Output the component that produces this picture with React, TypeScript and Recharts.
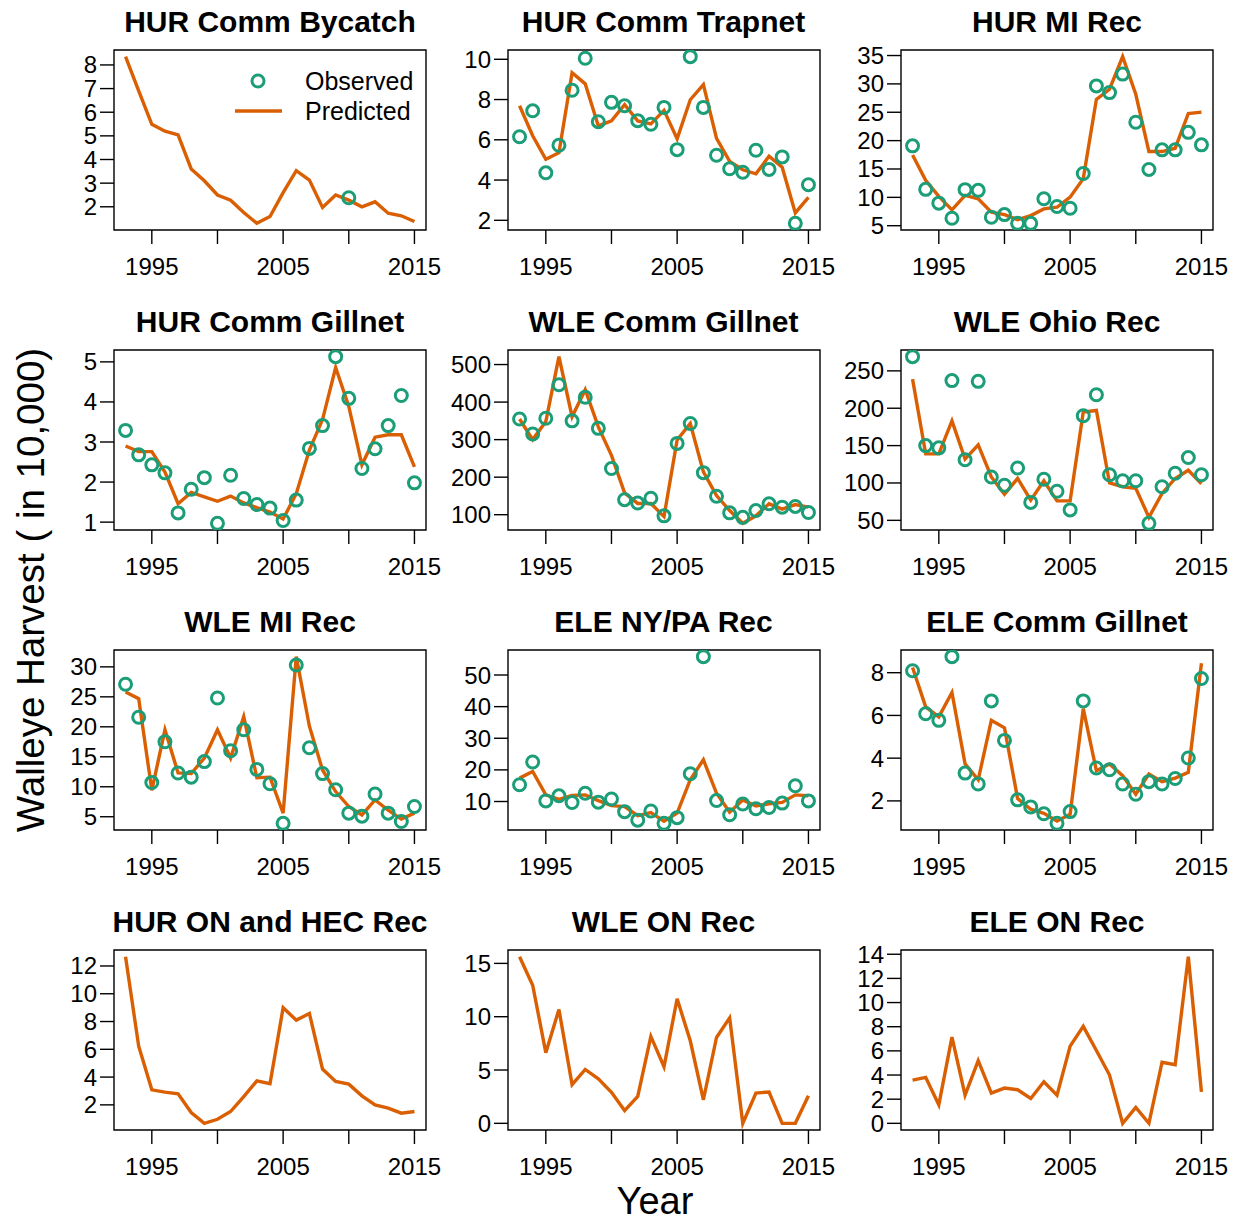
import React from 'react';
import { ComposedChart, Line, Scatter, XAxis, YAxis, ReferenceArea } from 'recharts';

const GREEN = '#1B9E77';
const ORANGE = '#D95F02';
const FONT = '"Liberation Sans", Arial, Helvetica, sans-serif';

const years = [1993, 1994, 1995, 1996, 1997, 1998, 1999, 2000, 2001, 2002, 2003, 2004, 2005, 2006, 2007, 2008, 2009, 2010, 2011, 2012, 2013, 2014, 2015];
const xTicks = [1995, 2000, 2005, 2010, 2015];
const xLabeled = [1995, 2005, 2015];

const titles = [
  'HUR Comm Bycatch', 'HUR Comm Trapnet', 'HUR MI Rec',
  'HUR Comm Gillnet', 'WLE Comm Gillnet', 'WLE Ohio Rec',
  'WLE MI Rec', 'ELE NY/PA Rec', 'ELE Comm Gillnet',
  'HUR ON and HEC Rec', 'WLE ON Rec', 'ELE ON Rec',
];

const _ = null;
const hurBycatchPred = [8.35, 6.9, 5.49, 5.2, 5.04, 3.6, 3.1, 2.5, 2.28, 1.76, 1.3, 1.59, 2.6, 3.53, 3.13, 1.97, 2.5, 2.28, 2.0, 2.21, 1.73, 1.62, 1.38];
const hurBycatchObs = [_, _, _, _, _, _, _, _, _, _, _, _, _, _, _, _, _, 2.38, _, _, _, _, _];
const hurTrapPred = [7.69, 6.2, 5.03, 5.36, 9.33, 8.78, 6.69, 6.94, 7.74, 6.94, 6.79, 7.46, 6.05, 7.99, 8.74, 6.07, 4.93, 4.51, 4.31, 5.18, 4.64, 2.37, 3.14];
const hurTrapObs = [6.15, 7.44, 4.36, 5.73, 8.46, 10.05, 6.9, 7.86, 7.69, 6.95, 6.77, 7.61, 5.51, 10.13, 7.61, 5.23, 4.56, 4.39, 5.48, 4.53, 5.15, 1.85, 3.77];
const hurMiRecPred = [17.47, 13.0, 10.16, 7.79, 10.34, 9.75, 7.38, 6.96, 6.07, 6.78, 7.97, 8.26, 10.04, 13.3, 27.28, 29.06, 34.8, 28.17, 18.07, 18.07, 18.66, 24.78, 25.02];
const hurMiRecObs = [19.08, 11.41, 8.98, 6.31, 11.36, 11.23, 6.49, 6.96, 5.42, 5.42, 9.75, 8.38, 8.08, 14.2, 29.65, 28.47, 31.73, 23.24, 14.92, 18.37, 18.37, 21.46, 19.26];
const hurGillPred = [2.9, 2.76, 2.76, 2.25, 1.46, 1.74, 1.63, 1.52, 1.65, 1.48, 1.36, 1.25, 1.08, 1.71, 2.8, 3.56, 4.86, 3.89, 2.43, 3.12, 3.18, 3.18, 2.38];
const hurGillObs = [3.29, 2.68, 2.43, 2.23, 1.23, 1.82, 2.11, 0.97, 2.17, 1.59, 1.44, 1.35, 1.04, 1.55, 2.84, 3.41, 5.13, 4.09, 2.34, 2.83, 3.41, 4.16, 1.98];
const wleGillPred = [355, 300, 348, 521, 361, 433, 334, 258, 158, 130, 130, 95, 299, 343, 214, 151, 111, 77, 97, 129, 115, 127, 120];
const wleGillObs = [355, 315, 357, 446, 350, 413, 330, 223, 140, 131, 144, 97, 290, 343, 212, 149, 105, 93, 111, 129, 120, 122, 106];
const wleOhioPred = [239, 139, 139, 183, 132, 151, 108, 85, 106, 77, 103, 76, 76, 195, 197, 100, 95, 93, 54, 86, 106, 117, 99];
const wleOhioObs = [269, 150, 147, 237, 131, 236, 108, 97, 120, 74, 105, 89, 64, 190, 218, 111, 103, 103, 46, 95, 113, 134, 111];
const wleMiPred = [25.8, 24.7, 9.4, 19.5, 12.3, 12.2, 14.8, 19.5, 14.8, 21.7, 11.5, 11.6, 5.6, 31.7, 20.1, 12.8, 9.2, 6.7, 5.3, 7.8, 6.1, 4.6, 5.6];
const wleMiObs = [27.1, 21.6, 10.7, 17.5, 12.3, 11.6, 14.2, 24.8, 16.0, 19.5, 12.9, 10.5, 3.9, 30.3, 16.5, 12.2, 9.5, 5.6, 5.1, 8.8, 5.6, 4.2, 6.7];
const eleNyPaPred = [17.4, 19.5, 12.1, 10.7, 11.9, 12.1, 10.3, 8.7, 8.4, 5.5, 6.5, 3.8, 6.3, 16.9, 23.2, 12.6, 6.6, 10.5, 8.6, 9.3, 9.7, 12.1, 11.8];
const eleNyPaObs = [15.3, 22.5, 10.2, 11.8, 9.7, 12.6, 9.8, 10.8, 6.8, 4.1, 7.0, 3.1, 4.9, 18.8, 55.8, 10.3, 5.8, 9.2, 7.7, 8.1, 9.5, 15.0, 10.2];
const eleGillPred = [8.24, 6.4, 5.93, 7.07, 3.73, 2.99, 5.77, 5.42, 2.11, 1.61, 1.42, 1.06, 1.37, 6.32, 3.41, 3.73, 3.18, 2.31, 3.26, 2.9, 3.07, 3.34, 8.44];
const eleGillObs = [8.09, 6.08, 5.77, 8.75, 3.3, 2.79, 6.68, 4.83, 2.05, 1.72, 1.4, 0.95, 1.5, 6.68, 3.54, 3.46, 2.79, 2.31, 2.9, 2.79, 3.05, 4.01, 7.73];
const hurOnPred = [12.67, 6.22, 3.08, 2.92, 2.8, 1.45, 0.67, 0.96, 1.52, 2.6, 3.73, 3.52, 8.99, 8.1, 8.58, 4.58, 3.69, 3.49, 2.65, 2.0, 1.76, 1.4, 1.52];
const wleOnPred = [15.63, 12.95, 6.63, 10.68, 3.63, 5.05, 4.17, 2.91, 1.2, 2.53, 8.15, 5.31, 11.68, 7.74, 2.21, 8.05, 9.89, 0, 2.84, 2.94, 0, 0, 2.59];
const eleOnPred = [3.58, 3.81, 1.53, 7.14, 2.33, 5.19, 2.5, 2.92, 2.78, 2.06, 3.44, 2.33, 6.39, 8.03, 6.03, 4.0, 0, 1.31, 0, 5.06, 4.86, 13.8, 2.61];

const yTicks1 = [2, 3, 4, 5, 6, 7, 8];
const yTicks2 = [2, 4, 6, 8, 10];
const yTicks3 = [5, 10, 15, 20, 25, 30, 35];
const yTicks4 = [1, 2, 3, 4, 5];
const yTicks5 = [100, 200, 300, 400, 500];
const yTicks6 = [50, 100, 150, 200, 250];
const yTicks7 = [5, 10, 15, 20, 25, 30];
const yTicks8 = [10, 20, 30, 40, 50];
const yTicks9 = [2, 4, 6, 8];
const yTicks10 = [2, 4, 6, 8, 10, 12];
const yTicks11 = [0, 5, 10, 15];
const yTicks12 = [0, 2, 4, 6, 8, 10, 12, 14];

const panels = [
  { pred: hurBycatchPred, obs: hurBycatchObs, ticks: yTicks1 },
  { pred: hurTrapPred, obs: hurTrapObs, ticks: yTicks2 },
  { pred: hurMiRecPred, obs: hurMiRecObs, ticks: yTicks3 },
  { pred: hurGillPred, obs: hurGillObs, ticks: yTicks4 },
  { pred: wleGillPred, obs: wleGillObs, ticks: yTicks5 },
  { pred: wleOhioPred, obs: wleOhioObs, ticks: yTicks6 },
  { pred: wleMiPred, obs: wleMiObs, ticks: yTicks7 },
  { pred: eleNyPaPred, obs: eleNyPaObs, ticks: yTicks8 },
  { pred: eleGillPred, obs: eleGillObs, ticks: yTicks9 },
  { pred: hurOnPred, obs: null, ticks: yTicks10 },
  { pred: wleOnPred, obs: null, ticks: yTicks11 },
  { pred: eleOnPred, obs: null, ticks: yTicks12 },
];

const BOX_W = 312;
const BOX_H = 180;
const colLeft = [114, 507.5, 901];
const rowTop = [50, 350, 650, 950];
const ML = 100;
const MT = 40;
const MR = 40;
const XH = 50;
const MB = 10;

const XTick = (props: any) => {
  const { x, y, payload } = props;
  if (!xLabeled.includes(payload.value)) return null;
  return (
    <text x={x} y={y} dy={29} textAnchor="middle" fontSize={24} fill="#000" fontFamily={FONT}>
      {payload.value}
    </text>
  );
};

const YTick = (props: any) => {
  const { x, y, payload } = props;
  return (
    <text x={x} y={y} dy={8.5} textAnchor="end" fontSize={24} fill="#000" fontFamily={FONT}>
      {payload.value}
    </text>
  );
};

const ObsDot = (props: any) => {
  const { cx, cy } = props;
  if (cx == null || cy == null) return null;
  return <circle cx={cx} cy={cy} r={6} fill="none" stroke={GREEN} strokeWidth={3} />;
};

function rangeDomain(vals: number[]) {
  const mn = Math.min(...vals);
  const mx = Math.max(...vals);
  const r = mx - mn;
  return [mn - 0.04 * r, mx + 0.04 * r];
}

function Panel({ idx }: { idx: number }) {
  const p = panels[idx];
  const col = idx % 3;
  const row = Math.floor(idx / 3);
  const data = years.map((y, i) => ({ year: y, pred: p.pred[i] }));
  const obsData = p.obs
    ? years.map((y, i) => ({ year: y, obs: p.obs![i] })).filter((d) => d.obs != null)
    : [];
  const vals = [...p.pred, ...(p.obs || [])].filter((v) => v != null) as number[];
  const yDomain = rangeDomain(vals);
  const xDomain = rangeDomain(years);
  return (
    <div style={{ position: 'absolute', left: colLeft[col] - ML, top: rowTop[row] - MT }}>
      <ComposedChart
        width={ML + BOX_W + MR}
        height={MT + BOX_H + XH + MB}
        data={data}
        margin={{ top: MT, right: MR, bottom: MB, left: 0 }}
      >
        <XAxis
          dataKey="year"
          type="number"
          domain={xDomain}
          allowDataOverflow
          ticks={xTicks}
          height={XH}
          axisLine={false}
          tickLine={{ stroke: '#000', strokeWidth: 1.4 }}
          tickSize={14}
          tickMargin={2}
          tick={<XTick />}
          interval={0}
        />
        <YAxis
          type="number"
          domain={yDomain}
          allowDataOverflow
          ticks={p.ticks}
          width={ML}
          axisLine={false}
          tickLine={{ stroke: '#000', strokeWidth: 1.4 }}
          tickSize={14}
          tickMargin={3}
          interval={0}
          tick={<YTick />}
        />
        <ReferenceArea
          x1={xDomain[0]}
          x2={xDomain[1]}
          y1={yDomain[0]}
          y2={yDomain[1]}
          fill="none"
          fillOpacity={0}
          stroke="#000"
          strokeWidth={1.4}
          ifOverflow="visible"
        />
        <Line
          type="linear"
          dataKey="pred"
          stroke={ORANGE}
          strokeWidth={3.4}
          dot={false}
          isAnimationActive={false}
        />
        {p.obs ? (
          <Scatter data={obsData} dataKey="obs" shape={<ObsDot />} isAnimationActive={false} />
        ) : null}
      </ComposedChart>
    </div>
  );
}

export default function App() {
  return (
    <div style={{ position: 'absolute', left: 0, top: 0, width: 1241, height: 1222, background: '#fff', overflow: 'hidden' }}>
      <svg width={1241} height={1222} style={{ position: 'absolute', left: 0, top: 0 }}>
        {titles.map((t, i) => (
          <text
            key={t}
            x={colLeft[i % 3] + BOX_W / 2}
            y={rowTop[Math.floor(i / 3)] - 18}
            textAnchor="middle"
            fontSize={30}
            fontWeight="bold"
            fontFamily={FONT}
            fill="#000"
          >
            {t}
          </text>
        ))}
        <text
          transform="translate(44,590) rotate(-90)"
          textAnchor="middle"
          fontSize={38.5}
          fontFamily={FONT}
          fill="#000"
        >
          Walleye Harvest ( in 10,000)
        </text>
        <text x={655} y={1214} textAnchor="middle" fontSize={38} fontFamily={FONT} fill="#000">
          Year
        </text>
        <circle cx={258} cy={81} r={6} fill="none" stroke={GREEN} strokeWidth={3} />
        <line x1={235} x2={282} y1={111} y2={111} stroke={ORANGE} strokeWidth={3.4} />
        <text x={305} y={90} fontSize={25} fontFamily={FONT} fill="#000">Observed</text>
        <text x={305} y={120} fontSize={25} fontFamily={FONT} fill="#000">Predicted</text>
      </svg>
      {panels.map((_p, i) => (
        <Panel key={i} idx={i} />
      ))}
    </div>
  );
}
